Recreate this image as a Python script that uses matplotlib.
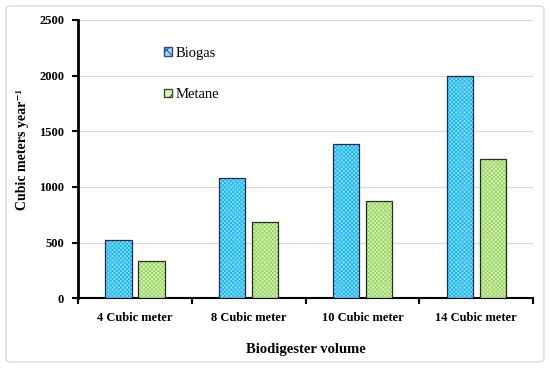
import matplotlib
matplotlib.use("Agg")
import matplotlib.pyplot as plt
import numpy as np
from matplotlib.patches import Patch, FancyBboxPatch

categories = ["4 Cubic meter", "8 Cubic meter", "10 Cubic meter", "14 Cubic meter"]
biogas = [520, 1080, 1385, 1995]
metane = [330, 680, 875, 1250]
yticks = [0, 500, 1000, 1500, 2000, 2500]

plt.rcParams['font.family'] = ['Liberation Serif', 'DejaVu Serif']
plt.rcParams['hatch.linewidth'] = 0.7

fig = plt.figure(figsize=(5.5, 3.69), dpi=100)
ax = fig.add_axes([0.142, 0.192, 0.827, 0.754])

fig.patches.append(FancyBboxPatch((0.011, 0.019), 0.978, 0.965,
                                  boxstyle="round,pad=0,rounding_size=0.01",
                                  transform=fig.transFigure, fill=False,
                                  edgecolor='#d9d9d9', linewidth=1.0))

x = np.arange(len(categories))
w = 0.23
off = 0.145
blue_face, blue_hatch = '#8fe2fb', '#20b4ee'
green_face, green_hatch = '#def7bf', '#98d466'

ax.bar(x - off, biogas, w, color=blue_face, edgecolor=blue_hatch, hatch='xxxxxxxx', linewidth=0, zorder=3)
ax.bar(x - off, biogas, w, fill=False, edgecolor='#252a45', linewidth=0.9, zorder=4)
ax.bar(x + off, metane, w, color=green_face, edgecolor=green_hatch, hatch='xxxxxxxx', linewidth=0, zorder=3)
ax.bar(x + off, metane, w, fill=False, edgecolor='#22301a', linewidth=0.9, zorder=4)

ax.set_xlim(-0.5, len(categories) - 0.5)
ax.set_ylim(0, 2500)
ax.set_yticks(yticks)
ax.set_yticklabels([str(v) for v in yticks], fontweight='bold', fontsize=9)
ax.set_xticks(x)
ax.set_xticklabels(categories, fontweight='bold', fontsize=9)
ax.set_xticks(np.arange(-0.5, len(categories), 1.0), minor=True)
ax.tick_params(axis='x', which='major', length=0, pad=10)
ax.tick_params(axis='x', which='minor', length=4, width=1.5, direction='out')
ax.tick_params(axis='y', length=4, width=1.5, direction='out', pad=6)

ax.grid(axis='y', color='#d9d9d9', linewidth=0.9, zorder=0)
ax.set_axisbelow(True)
for s in ['top', 'right']:
    ax.spines[s].set_visible(False)
ax.spines['left'].set_linewidth(2)
ax.spines['bottom'].set_linewidth(1.5)

ax.set_ylabel("Cubic meters year\u207b\u00b9", fontweight='bold', fontsize=10)
ax.yaxis.set_label_coords(-0.108, 0.535)
ax.set_xlabel("Biodigester volume", fontweight='bold', fontsize=10.5, labelpad=14)

handles = [Patch(facecolor=blue_face, edgecolor='#334488', hatch='xx', label='Biogas'),
           Patch(facecolor=green_face, edgecolor='#335522', hatch='xx', label='Metane')]
ax.legend(handles=handles, loc='upper left', bbox_to_anchor=(0.176, 0.925), frameon=False,
          fontsize=10.5, handlelength=0.55, handleheight=0.55, handletextpad=0.25,
          labelspacing=1.95, borderaxespad=0)

fig.savefig("out.png", dpi=100)
